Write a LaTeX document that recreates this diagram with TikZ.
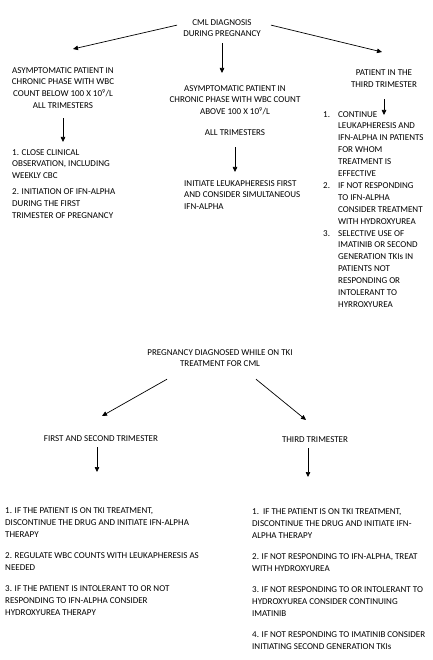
\documentclass[tikz,border=0pt]{standalone}
\usepackage{fontspec}
\setmainfont{Carlito}
\usetikzlibrary{arrows.meta, calc}

\newcommand{\itemno}[1]{\makebox[15pt][l]{#1}}
\newcommand{\itemskip}{\hspace*{15pt}}

\begin{document}
\begin{tikzpicture}[x=1pt, y=-1pt,
    font=\fontsize{9}{11.9}\selectfont,
    txt/.style={inner sep=0pt, align=center, anchor=north},
    lst/.style={inner sep=0pt, align=left, anchor=north west},
    arr/.style={line width=0.7pt, -{Triangle[length=5pt, width=4.5pt]}}]
            \useasboundingbox (0,0) rectangle (432,660);

            % first chart
            \node [txt] (diagnosis) at (222,19) {CML DIAGNOSIS\\DURING PREGNANCY};
            \node [txt] (lowwbc) at (63,67) {ASYMPTOMATIC PATIENT IN\\CHRONIC PHASE WITH WBC\\COUNT BELOW 100 X 10\textsuperscript{9}/L\\ALL TRIMESTERS};
            \node [txt] (highwbc) at (235,85) {ASYMPTOMATIC PATIENT IN\\CHRONIC PHASE WITH WBC COUNT\\ABOVE 100 X 10\textsuperscript{9}/L\\[9pt]ALL TRIMESTERS};
            \node [txt] (thirdtri) at (384,70) {PATIENT IN THE\\THIRD TRIMESTER};

            \node [lst] (lowwbcplan) at (12,149) {1. CLOSE CLINICAL\\OBSERVATION, INCLUDING\\WEEKLY CBC\\[4pt]2. INITIATION OF IFN-ALPHA\\DURING THE FIRST\\TRIMESTER OF PREGNANCY};
            \node [lst] (highwbcplan) at (184,180) {INITIATE LEUKAPHERESIS FIRST\\AND CONSIDER SIMULTANEOUS\\IFN-ALPHA};
            \node [lst] (thirdplan) at (323,111) {\itemno{1.}CONTINUE\\\itemskip LEUKAPHERESIS AND\\\itemskip IFN-ALPHA IN PATIENTS\\\itemskip FOR WHOM\\\itemskip TREATMENT IS\\\itemskip EFFECTIVE\\\itemno{2.}IF NOT RESPONDING\\\itemskip TO IFN-ALPHA\\\itemskip CONSIDER TREATMENT\\\itemskip WITH HYDROXYUREA\\\itemno{3.}SELECTIVE USE OF\\\itemskip IMATINIB OR SECOND\\\itemskip GENERATION TKIs IN\\\itemskip PATIENTS NOT\\\itemskip RESPONDING OR\\\itemskip INTOLERANT TO\\\itemskip HYRROXYUREA};

            \draw [arr] ([xshift=-6pt, yshift=3pt]diagnosis.west) -- ($(lowwbc.north)+(10,-18)$);
            \draw [arr, shorten <=6pt] (diagnosis.south) -- ($(diagnosis.south |- highwbc.north)+(0,-12)$);
            \draw [arr] ([xshift=10pt, yshift=3pt]diagnosis.east) -- ($(thirdtri.north)+(-2,-18)$);

            \draw [arr, shorten <=9pt, shorten >=7pt] (lowwbc.south) -- (lowwbc.south |- lowwbcplan.north);
            \draw [arr, shorten <=11pt, shorten >=8pt] (highwbc.south) -- (highwbc.south |- highwbcplan.north);
            \draw [arr, shorten <=11pt] (thirdtri.south) -- ($(thirdtri.south |- thirdplan.north)+(0,4)$);

            % second chart
            \node [txt] (ontki) at (220,349) {PREGNANCY DIAGNOSED WHILE ON TKI\\TREATMENT FOR CML};
            \node [txt] (firstsecond) at (101,435) {FIRST AND SECOND TRIMESTER};
            \node [txt] (thirdtki) at (315,436) {THIRD TRIMESTER};

            \node [lst, font=\fontsize{9}{12.2}\selectfont] (firstsecondplan) at (5,507) {1. IF THE PATIENT IS ON TKI TREATMENT,\\DISCONTINUE THE DRUG AND INITIATE IFN-ALPHA\\THERAPY\\[9pt]2. REGULATE WBC COUNTS WITH LEUKAPHERESIS AS\\NEEDED\\[8pt]3. IF THE PATIENT IS INTOLERANT TO OR NOT\\RESPONDING TO IFN-ALPHA CONSIDER\\HYDROXYUREA THERAPY};
            \node [lst, font=\fontsize{9}{12.4}\selectfont] (thirdtkiplan) at (252,508) {1.\ \ IF THE PATIENT IS ON TKI TREATMENT,\\DISCONTINUE THE DRUG AND INITIATE IFN-\\ALPHA THERAPY\\[8pt]2. IF NOT RESPONDING TO IFN-ALPHA, TREAT\\WITH HYDROXYUREA\\[8pt]3. IF NOT RESPONDING TO OR INTOLERANT TO\\HYDROXYUREA CONSIDER CONTINUING\\IMATINIB\\[8pt]4. IF NOT RESPONDING TO IMATINIB CONSIDER\\INITIATING SECOND GENERATION TKIs};

            \draw [arr] ($(ontki.south)+(-53,12)$) -- ($(firstsecond.north)+(1,-19)$);
            \draw [arr] ($(ontki.south)+(36,12)$) -- ($(thirdtki.north)+(-9,-16)$);

            \draw [arr, shorten <=6pt, shorten >=35pt] ([xshift=-4pt]firstsecond.south) -- ([xshift=-4pt]firstsecond.south |- firstsecondplan.north);
            \draw [arr, shorten <=6pt, shorten >=31pt] ([xshift=-7pt]thirdtki.south) -- ([xshift=-7pt]thirdtki.south |- thirdtkiplan.north);
\end{tikzpicture}
\end{document}
